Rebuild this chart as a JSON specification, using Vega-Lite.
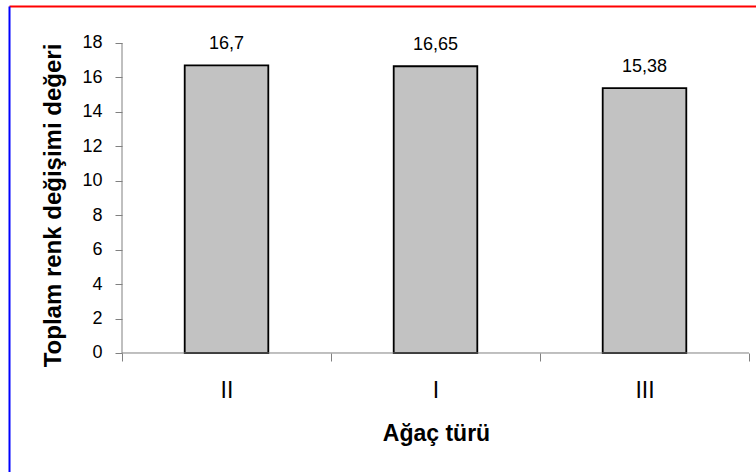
{
  "$schema": "https://vega.github.io/schema/vega-lite/v6.json",
  "width": 747,
  "height": 466,
  "autosize": {"type": "none"},
  "padding": {"left": 9, "top": 6, "right": 0, "bottom": 0},
  "background": "white",
  "config": {
    "view": {"stroke": "transparent", "strokeWidth": 0},
    "font": "Liberation Sans",
    "locale": {
      "number": {"decimal": ",", "thousands": ".", "grouping": [3], "currency": ["", " TL"]}
    }
  },
  "data": {
    "values": [
      {"tur": "II", "deger": 16.7},
      {"tur": "I", "deger": 16.65},
      {"tur": "III", "deger": 15.38}
    ]
  },
  "layer": [
    {
      "layer": [
        {
          "mark": {"type": "bar", "fill": "#c2c2c2", "stroke": "black", "strokeWidth": 1.8, "width": {"band": 0.4}},
          "encoding": {
            "x": {
              "field": "tur",
              "type": "nominal",
              "scale": {"domain": ["II", "I", "III"], "paddingInner": 0, "paddingOuter": 0.2871, "align": 0.9417},
              "axis": {
                "orient": "bottom",
                "offset": -119,
                "domain": false,
                "grid": false,
                "tickBand": "extent",
                "tickSize": 8,
                "tickColor": "#808080",
                "labelAngle": 0,
                "labelFontSize": 23,
                "labelColor": "black",
                "labelPadding": 36,
                "labelBaseline": "alphabetic",
                "title": "Ağaç türü",
                "titleFontSize": 23,
                "titleFontWeight": "bold",
                "titleColor": "black",
                "titleX": 427,
                "titleY": 87,
                "titleAlign": "center",
                "titleBaseline": "alphabetic"
              }
            },
            "y": {
              "field": "deger",
              "type": "quantitative",
              "scale": {"domain": [-6.91, 20.148], "nice": false, "zero": false},
              "axis": {
                "orient": "left",
                "offset": -113,
                "domain": false,
                "grid": false,
                "values": [0, 2, 4, 6, 8, 10, 12, 14, 16, 18],
                "tickSize": 7,
                "tickColor": "#808080",
                "labelFontSize": 18,
                "labelColor": "black",
                "labelPadding": 13,
                "labelFlush": false,
                "labelOverlap": false,
                "title": "Toplam renk değişimi değeri",
                "titleFontSize": 24,
                "titleFontWeight": "bold",
                "titleColor": "black",
                "titleAngle": 270,
                "titleX": -62,
                "titleY": 199,
                "titleAlign": "center",
                "titleBaseline": "alphabetic"
              }
            },
            "y2": {"datum": 0}
          }
        },
        {
          "mark": {"type": "text", "dy": -16, "baseline": "alphabetic", "fontSize": 18, "color": "black"},
          "encoding": {
            "x": {"field": "tur", "type": "nominal", "scale": {"domain": ["II", "I", "III"]}},
            "y": {"field": "deger", "type": "quantitative"},
            "text": {"field": "deger", "type": "quantitative", "format": "~g"}
          }
        },
        {
          "data": {"values": [{}]},
          "mark": {"type": "rule", "color": "#808080", "strokeWidth": 1},
          "encoding": {
            "x": {"datum": "II", "type": "nominal", "bandPosition": 0, "scale": {"domain": ["II", "I", "III"]}},
            "y": {"datum": 0, "type": "quantitative"},
            "y2": {"datum": 18}
          }
        }
      ]
    },
    {
      "data": {"values": [{}]},
      "mark": {"type": "rule", "color": "#808080", "strokeWidth": 1},
      "encoding": {
        "x": {
          "datum": "II",
          "type": "nominal",
          "bandPosition": 0,
          "scale": {"domain": ["II", "I", "III"]},
          "axis": {
            "orient": "top",
            "domain": true,
            "domainColor": "red",
            "domainWidth": 2,
            "ticks": false,
            "labels": false,
            "grid": false,
            "title": null
          }
        },
        "x2": {"datum": "III", "bandPosition": 1},
        "y": {
          "datum": 0,
          "type": "quantitative",
          "axis": {
            "orient": "left",
            "offset": 0,
            "domain": true,
            "domainColor": "blue",
            "domainWidth": 2,
            "ticks": false,
            "labels": false,
            "grid": false,
            "title": null
          }
        }
      }
    }
  ],
  "resolve": {"axis": {"x": "independent", "y": "independent"}}
}
